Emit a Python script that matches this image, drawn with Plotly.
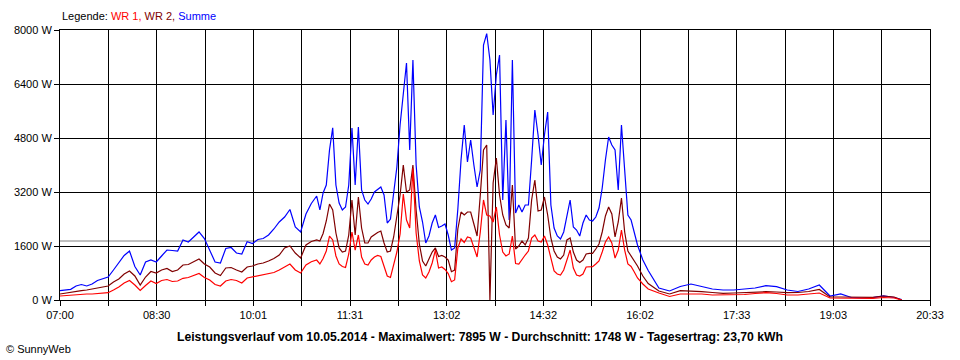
import plotly.graph_objects as go
from datetime import datetime

DATE = "2014-05-10"

TIMES = [
    "07:00", "07:05", "07:10", "07:15", "07:20", "07:25", "07:30", "07:35", "07:40", "07:45",
    "07:50", "07:55", "08:00", "08:05", "08:10", "08:15", "08:20", "08:25", "08:30", "08:35",
    "08:40", "08:45", "08:50", "08:55", "09:00", "09:05", "09:10", "09:15", "09:20", "09:25",
    "09:30", "09:35", "09:40", "09:45", "09:50", "09:55", "10:00", "10:05", "10:10", "10:15",
    "10:20", "10:25", "10:30", "10:35", "10:40", "10:45", "10:50", "10:55", "11:00",
    "11:03", "11:06", "11:09", "11:12", "11:15", "11:18", "11:21", "11:24", "11:27", "11:30",
    "11:33", "11:36", "11:39", "11:42", "11:45", "11:48", "11:51", "11:54", "11:57", "12:00",
    "12:03", "12:06", "12:09", "12:12", "12:15", "12:18", "12:21", "12:24", "12:27", "12:30",
    "12:33", "12:36", "12:39", "12:42", "12:45", "12:48", "12:51", "12:54", "12:57", "13:00",
    "13:03", "13:06", "13:09", "13:12", "13:15", "13:18", "13:21", "13:24", "13:27", "13:30",
    "13:33", "13:36", "13:39", "13:42", "13:45", "13:48", "13:51", "13:54", "13:57", "14:00",
    "14:03", "14:06", "14:09", "14:12", "14:15", "14:18", "14:21", "14:24", "14:27", "14:30",
    "14:33", "14:36", "14:39", "14:42", "14:45", "14:48", "14:51", "14:54", "14:57", "15:00",
    "15:03", "15:06", "15:09", "15:12", "15:15", "15:18", "15:21", "15:24", "15:27", "15:30",
    "15:33", "15:36", "15:39", "15:42", "15:45", "15:48", "15:51", "15:54", "15:57", "16:00",
    "16:05", "16:10", "16:20", "16:30", "16:40", "16:50", "17:00", "17:10", "17:20", "17:30",
    "17:40", "17:50", "18:00", "18:10", "18:20", "18:30", "18:40", "18:50", "19:00", "19:10",
    "19:20", "19:30", "19:40", "19:50", "20:00", "20:07",
]

WR1 = [
    119, 133, 148, 163, 178, 178, 178, 193, 207, 216,
    296, 385, 504, 578, 444, 281, 430, 563, 489, 578,
    607, 548, 563, 643, 667, 726, 785, 667, 593, 459,
    415, 563, 607, 578, 504, 652, 681, 711, 741, 770,
    815, 889, 978, 1067, 889, 800, 1037, 1135, 1185,
    1067, 1230, 1452, 1896, 1778, 1304, 1067, 993, 963, 1363,
    2015, 1481, 1926, 1274, 1067, 1037, 1185, 1274, 1319, 1289,
    1007, 711, 667, 1007, 1422, 1956, 3141, 2370, 2133, 3900,
    1985, 1156, 741, 652, 830, 1096, 1481, 948, 978, 904,
    785, 542, 593, 1541, 1807, 1704, 1867, 1837, 1570, 1274,
    2015, 2963, 2519, 2489, 2311, 2756, 1926, 1422, 1304, 1363,
    1896, 1081, 1067, 1215, 1333, 1452, 1837, 1926, 1748, 1719,
    1896, 1630, 1244, 859, 770, 741, 889, 1185, 1481, 948,
    741, 711, 770, 978, 987, 987, 1067, 1156, 1422, 1719,
    1867, 1689, 1244, 1481, 2074, 1481, 1067, 993, 830, 652,
    474, 326, 207, 104, 178, 178, 178, 148, 148, 148,
    163, 193, 216, 193, 148, 148, 178, 207, 59, 59,
    38, 44, 50, 74, 59, 0,
]

WR2 = [
    178, 207, 237, 267, 276, 296, 326, 356, 385, 415,
    533, 622, 770, 859, 711, 444, 681, 844, 800, 889,
    933, 844, 889, 1037, 1052, 1126, 1215, 1067, 978, 800,
    726, 948, 963, 889, 830, 978, 1007, 1067, 1096, 1156,
    1230, 1333, 1541, 1600, 1393, 1244, 1630, 1733, 1778,
    1748, 1970, 2341, 2844, 2667, 1985, 1541, 1422, 1452, 1926,
    2963, 1926, 3052, 2133, 1689, 1689, 1867, 1941, 2000, 2044,
    1689, 1422, 1452, 1867, 2430, 3111, 4000, 3200, 3259, 4000,
    2667, 1659, 1156, 1007, 1215, 1422, 1541, 1289, 1319, 1274,
    1185, 839, 889, 2104, 2607, 2519, 2607, 2607, 2252, 1896,
    3111, 4444, 4593, 0, 3467, 4207, 3111, 2519, 2222, 2133,
    3407, 1511, 1600, 1748, 1630, 1837, 2963, 3556, 2637, 2667,
    3052, 2519, 1837, 1452, 1274, 1215, 1333, 1778, 1837, 1422,
    1185, 1111, 1185, 1363, 1383, 1383, 1511, 1659, 2015, 2489,
    2756, 2548, 1867, 2311, 3022, 2015, 1452, 1304, 1156, 1007,
    711, 489, 267, 178, 276, 267, 246, 222, 198, 207,
    222, 237, 246, 237, 216, 222, 252, 311, 89, 89,
    80, 74, 80, 119, 89, 0,
]

SUMME = [
    276, 296, 317, 415, 459, 415, 474, 578, 637, 681,
    889, 1096, 1319, 1452, 993, 741, 1126, 1185, 1126, 1304,
    1481, 1467, 1452, 1778, 1719, 1867, 2015, 1822, 1496, 1126,
    1096, 1526, 1556, 1393, 1363, 1727, 1674, 1793, 1822, 1926,
    2104, 2311, 2459, 2682, 2163, 2015, 2548, 2859, 3081,
    2667, 3170, 3407, 4444, 5100, 3407, 2874, 2667, 2756, 3407,
    5096, 3407, 5126, 3259, 2963, 2844, 2993, 3200, 3289, 3348,
    3111, 2281, 2400, 3259, 3941, 5185, 6222, 7022, 4444, 7111,
    4000, 2756, 2311, 1689, 1896, 2281, 2519, 2148, 2193, 2252,
    1926, 1481, 1541, 2696, 4148, 5185, 4089, 4741, 4000, 3348,
    3852, 7556, 7895, 7111, 5481, 6667, 7259, 2963, 5333, 2370,
    7111, 2578, 2815, 2607, 2815, 2815, 4148, 5630, 4889, 4000,
    4889, 5570, 2815, 2133, 1896, 1807, 2015, 2519, 2963, 2163,
    2074, 1896, 2281, 2519, 2370, 2341, 2459, 2726, 3319, 4148,
    4830, 4593, 4444, 3259, 5185, 3852, 2519, 2370, 2015, 1630,
    1185, 874, 356, 267, 400, 474, 400, 326, 296, 296,
    326, 356, 424, 394, 296, 252, 326, 444, 119, 178,
    74, 59, 68, 119, 74, 15,
]

AVERAGE_W = 1748
Y_TICKS = [0, 1600, 3200, 4800, 6400, 8000]
Y_LABELS = ["0 W", "1600 W", "3200 W", "4800 W", "6400 W", "8000 W"]
X_LABELS = ["07:00", "08:30", "10:01", "11:31", "13:02", "14:32", "16:02", "17:33", "19:03", "20:33"]
X_START = "07:00:00"
X_END = "20:33:30"

TITLE = ("Leistungsverlauf vom 10.05.2014 - Maximalwert: 7895 W - "
         "Durchschnitt: 1748 W - Tagesertrag: 23,70 kWh")

FONT = "Liberation Sans, Arial, sans-serif"

x = [f"{DATE} {t}" for t in TIMES]

t0 = datetime.fromisoformat(f"{DATE} {X_START}")
t1 = datetime.fromisoformat(f"{DATE} {X_END}")
n_grid = 18
step = (t1 - t0) / n_grid
grid_vals = [(t0 + step * i).strftime("%Y-%m-%d %H:%M:%S") for i in range(n_grid + 1)]
grid_text = [X_LABELS[i // 2] if i % 2 == 0 else "" for i in range(n_grid + 1)]

fig = go.Figure()
fig.add_trace(go.Scatter(x=x, y=SUMME, mode="lines", name="Summe",
                         line=dict(color="#0000FF", width=1.2), hoverinfo="skip"))
fig.add_trace(go.Scatter(x=x, y=WR2, mode="lines", name="WR 2",
                         line=dict(color="#800000", width=1.2), hoverinfo="skip"))
fig.add_trace(go.Scatter(x=x, y=WR1, mode="lines", name="WR 1",
                         line=dict(color="#FF0000", width=1.2), hoverinfo="skip"))

fig.add_shape(type="line", xref="paper", x0=0, x1=1, yref="y", y0=AVERAGE_W, y1=AVERAGE_W,
              line=dict(color="#808080", width=1), layer="below")

axis_common = dict(showgrid=True, gridcolor="black", gridwidth=1,
                   showline=True, linecolor="black", linewidth=1, mirror=True,
                   ticks="outside", ticklen=5, tickcolor="black", tickwidth=1,
                   zeroline=False, automargin=False,
                   tickfont=dict(family=FONT, size=11, color="black"))

fig.update_xaxes(type="date", range=[f"{DATE} {X_START}", f"{DATE} {X_END}"],
                 tickmode="array", tickvals=grid_vals, ticktext=grid_text, tickangle=0,
                 **axis_common)
fig.update_yaxes(range=[0, 8000], tickmode="array", tickvals=Y_TICKS, ticktext=Y_LABELS,
                 **axis_common)

fig.add_annotation(xref="paper", yref="paper", x=0, y=1.052, xanchor="left", yanchor="middle",
                   showarrow=False,
                   text=("<span style='color:black'>Legende: </span>"
                         "<span style='color:#FF0000'>WR 1, </span>"
                         "<span style='color:#800000'>WR 2, </span>"
                         "<span style='color:#0000FF'>Summe</span>"),
                   font=dict(family=FONT, size=11, color="black"))
fig.add_annotation(xref="paper", yref="paper", x=(480 - 60) / 870, y=-0.137,
                   xanchor="center", yanchor="middle", showarrow=False,
                   text=f"<b>{TITLE}</b>", font=dict(family=FONT, size=12.2, color="black"))
fig.add_annotation(xref="paper", yref="paper", x=(4 - 60) / 870, y=-0.181,
                   xanchor="left", yanchor="middle", showarrow=False,
                   text="© SunnyWeb", font=dict(family=FONT, size=11, color="black"))

fig.update_layout(width=960, height=360, margin=dict(l=60, r=30, t=30, b=60),
                  paper_bgcolor="white", plot_bgcolor="white", showlegend=False,
                  font=dict(family=FONT, size=11, color="black"))

fig.write_html("out.html", config={"displayModeBar": False},
               post_script="document.body.style.margin='0';")
